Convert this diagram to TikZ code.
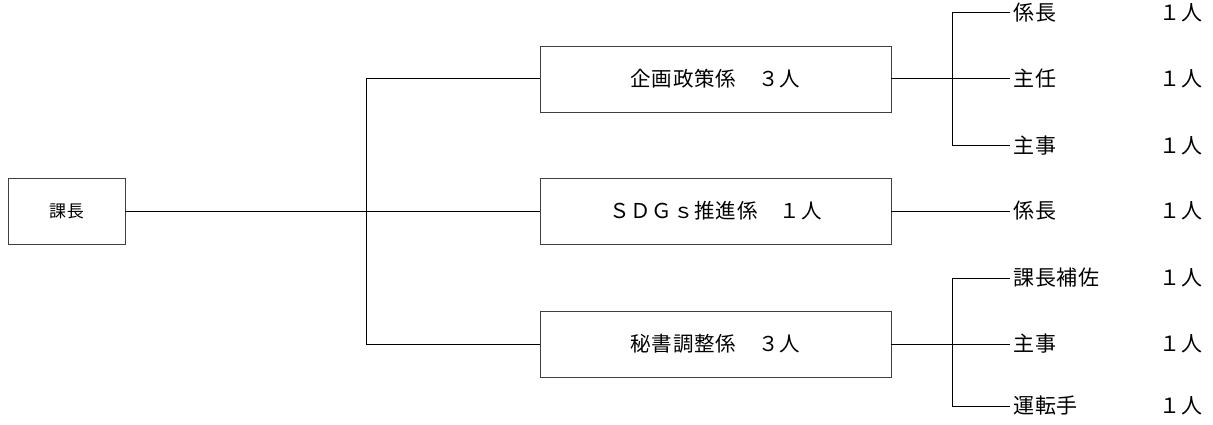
\documentclass[tikz,border=0pt]{standalone}
\usepackage{fontspec}
\newfontfamily\jp{Noto Sans CJK JP}[LetterSpace=4]
\begin{document}
\begin{tikzpicture}[x=1pt,y=-1pt,
  box/.style={draw=black!75,line width=0.9pt,rectangle,inner sep=0pt,minimum height=66pt,font=\jp\fontsize{20.5}{24}\selectfont},
  lbl/.style={anchor=west,inner sep=3pt,font=\jp\fontsize{21}{24}\selectfont},
  conn/.style={draw=black,line width=1pt}]
\useasboundingbox (0,0) rectangle (1213,425);
\node[box,minimum width=117pt,font=\jp\fontsize{17}{20}\selectfont] (kacho) at (66.5,211) {課長};
\node[box,minimum width=351pt] (b1) at (715.5,79) {企画政策係　３人};
\node[box,minimum width=351pt] (b2) at (715.5,211) {ＳＤＧｓ推進係　１人};
\node[box,minimum width=351pt] (b3) at (715.5,344) {秘書調整係　３人};
\coordinate (L) at (366,0);
\coordinate (R) at (952,0);
% right labels
\node[lbl] (t1) at (1010,13) {係長};
\node[lbl] (t2) at (1010,79) {主任};
\node[lbl] (t3) at (1010,146) {主事};
\node[lbl] (m1) at (1010,211) {係長};
\node[lbl] (u1) at (1010,278) {課長補佐};
\node[lbl] (u2) at (1010,344) {主事};
\node[lbl] (u3) at (1010,406) {運転手};
\node[lbl] (c1) at (1156,13) {１人};
\node[lbl] (c2) at (1156,79) {１人};
\node[lbl] (c3) at (1156,146) {１人};
\node[lbl] (c4) at (1156,211) {１人};
\node[lbl] (c5) at (1156,278) {１人};
\node[lbl] (c6) at (1156,344) {１人};
\node[lbl] (c7) at (1156,406) {１人};
% connectors
\draw[conn] (kacho.east) -- (b2.west);
\draw[conn] (b1.west) -- (b1.west -| L) -- (b3.west -| L) -- (b3.west);
\draw[conn] (b1.east) -- (t2.west);
\draw[conn] (t1.west) -- (t1.west -| R) -- (t3.west -| R) -- (t3.west);
\draw[conn] (b2.east) -- (m1.west);
\draw[conn] (b3.east) -- (u2.west);
\draw[conn] (u1.west) -- (u1.west -| R) -- (u3.west -| R) -- (u3.west);
\end{tikzpicture}
\end{document}
